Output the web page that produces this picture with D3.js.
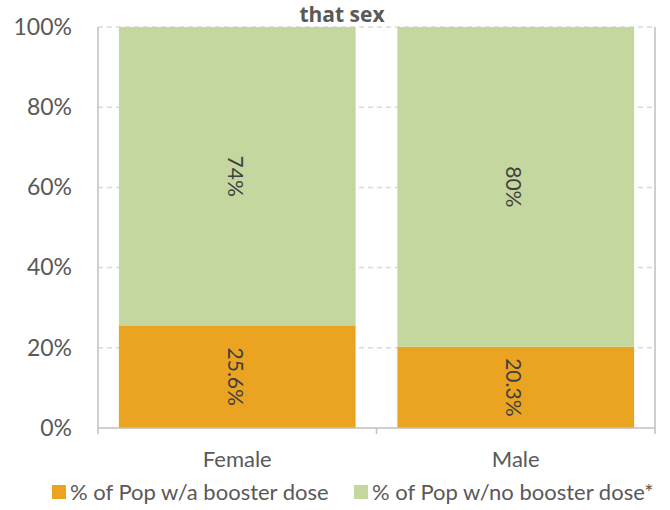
<!DOCTYPE html>
<html><head><meta charset="utf-8">
<script src="https://cdn.jsdelivr.net/npm/d3@7"></script>
<style>
html,body{margin:0;padding:0;background:#fff;}
svg{display:block;font-family:Lato,"Open Sans",sans-serif;}
</style></head>
<body><svg id="c" width="670" height="510"></svg>
<script>
const categories = ["Female", "Male"];
const boosterValues = [25.6, 20.3];
const noBoosterValues = [74.4, 79.7];
const boosterLabels = ["25.6%", "20.3%"];
const noBoosterLabels = ["74%", "80%"];
const seriesNames = ["% of Pop w/a booster dose", "% of Pop w/no booster dose*"];
const seriesColors = ["#EBA422", "#C4D79E"];
const yTicks = [0, 20, 40, 60, 80, 100];
const titleText = "that sex";

const svg = d3.select("#c");
const m = {left: 98, right: 655, top: 27, bottom: 428};
const x = d3.scaleBand().domain(categories).range([m.left, m.right]).paddingInner(0.15).paddingOuter(0.075);
const y = d3.scaleLinear().domain([0, 100]).range([m.bottom, m.top]);

// gridlines
svg.append("g").selectAll("line").data(yTicks.filter(d => d > 0)).join("line")
  .attr("x1", m.left).attr("x2", m.right)
  .attr("y1", d => y(d)).attr("y2", d => y(d))
  .attr("stroke", "#d9d9d9").attr("stroke-width", 1.5).attr("stroke-dasharray", "5,4");

// stacked data
const rows = categories.map((c, i) => ({cat: c, booster: boosterValues[i], none: noBoosterValues[i]}));
const stack = d3.stack().keys(["booster", "none"])(rows);
const labels = [boosterLabels, noBoosterLabels];

stack.forEach((s, si) => {
  const g = svg.append("g");
  g.selectAll("rect").data(s).join("rect")
    .attr("x", d => x(d.data.cat)).attr("width", x.bandwidth())
    .attr("y", d => y(d[1])).attr("height", d => y(d[0]) - y(d[1]))
    .attr("fill", seriesColors[si]);
  g.selectAll("text").data(s).join("text")
    .attr("transform", d => `translate(${x(d.data.cat) + x.bandwidth()/2 - 1},${(y(d[0]) + y(d[1]))/2}) rotate(90)`)
    .attr("text-anchor", "middle").attr("dominant-baseline", "central")
    .attr("font-size", 21).attr("fill", "#404040")
    .text((d, i) => labels[si][i]);
});

// axes
const border = "#bfbfbf";
svg.append("line").attr("x1", m.left).attr("x2", m.left).attr("y1", m.top).attr("y2", m.bottom + 6)
  .attr("stroke", border).attr("stroke-width", 1.5);
svg.append("line").attr("x1", m.right).attr("x2", m.right).attr("y1", m.top).attr("y2", m.bottom + 6)
  .attr("stroke", border).attr("stroke-width", 1.5);
svg.append("line").attr("x1", m.left).attr("x2", m.right).attr("y1", m.bottom).attr("y2", m.bottom)
  .attr("stroke", border).attr("stroke-width", 1.5);
svg.append("line").attr("x1", (m.left + m.right)/2).attr("x2", (m.left + m.right)/2).attr("y1", m.bottom).attr("y2", m.bottom + 6)
  .attr("stroke", border).attr("stroke-width", 1.5);

const yAxis = d3.axisLeft(y).tickValues(yTicks).tickFormat(d => d + "%").tickSize(0).tickPadding(26);
const ya = svg.append("g").attr("transform", `translate(${m.left},0)`).call(yAxis);
ya.select(".domain").remove();
ya.selectAll("text").attr("font-size", 23).attr("fill", "#595959").attr("font-family", "Lato");

const xAxis = d3.axisBottom(x).tickSize(0).tickPadding(23);
const xa = svg.append("g").attr("transform", `translate(0,${m.bottom})`).call(xAxis);
xa.select(".domain").remove();
xa.selectAll("text").attr("font-size", 22).attr("fill", "#595959").attr("font-family", "Lato");

// title
svg.append("text").attr("x", 342).attr("y", 22).attr("text-anchor", "middle")
  .attr("font-size", 21).attr("font-weight", "bold").attr("fill", "#595959")
  .attr("font-family", "'Open Sans', Lato, sans-serif").text(titleText);

// legend
const legX = [52, 354];
const lg = svg.append("g");
seriesNames.forEach((n, i) => {
  lg.append("rect").attr("x", legX[i]).attr("y", 485).attr("width", 14).attr("height", 14).attr("fill", seriesColors[i]);
  lg.append("text").attr("x", legX[i] + 18).attr("y", 500).attr("font-size", 22).attr("fill", "#595959").text(n);
});
</script></body></html>
